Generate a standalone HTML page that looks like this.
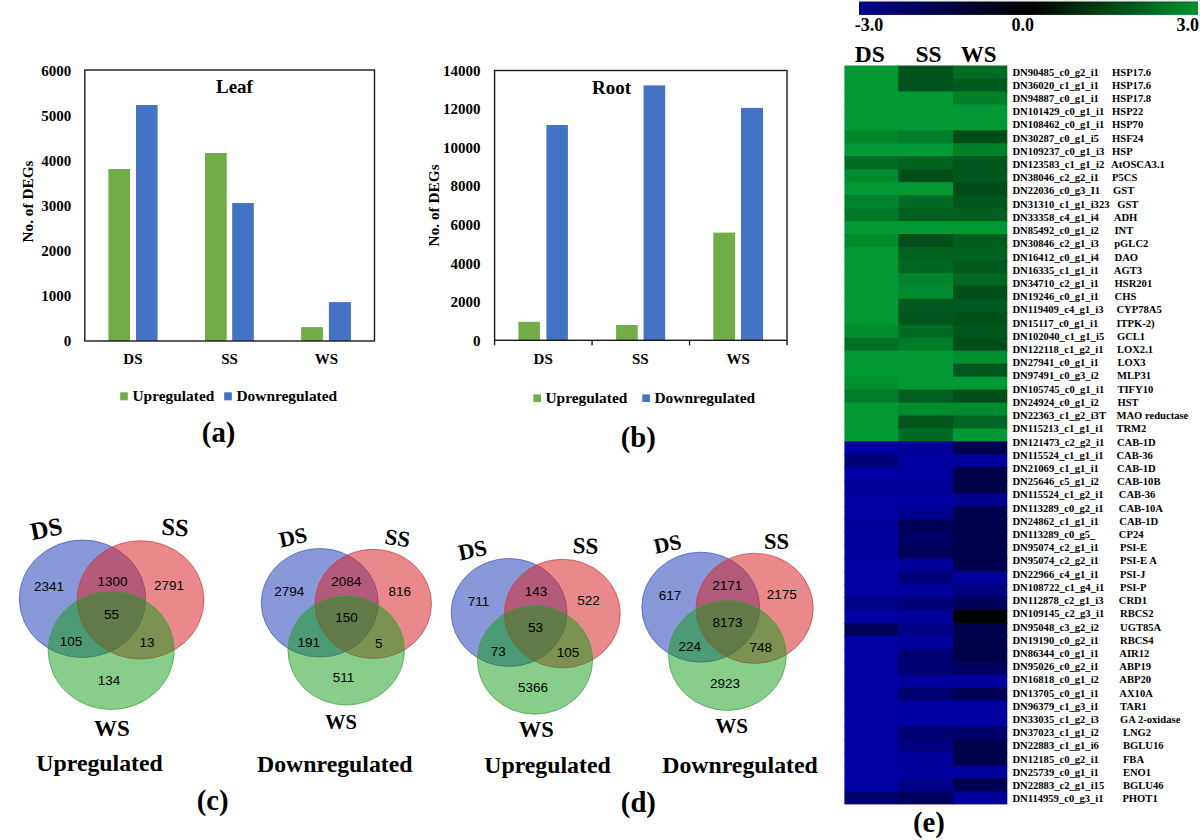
<!DOCTYPE html>
<html><head><meta charset="utf-8"><style>
html,body{margin:0;padding:0;background:#fff;}
svg{display:block;}
</style></head><body>
<svg width="1200" height="840" viewBox="0 0 1200 840">
<rect width="1200" height="840" fill="#fff"/>
<rect x="108.4" y="169.0" width="21.6" height="172.0" fill="#70AD47"/>
<rect x="136.0" y="105.0" width="21.6" height="236.0" fill="#4472C4"/>
<rect x="205.0" y="153.0" width="21.7" height="188.0" fill="#70AD47"/>
<rect x="232.2" y="203.0" width="21.6" height="138.0" fill="#4472C4"/>
<rect x="301.2" y="327.1" width="21.7" height="13.899999999999977" fill="#70AD47"/>
<rect x="328.9" y="302.1" width="22.0" height="38.89999999999998" fill="#4472C4"/>
<rect x="84.8" y="70.0" width="289.7" height="271.0" fill="none" stroke="#1a1a1a" stroke-width="1.4"/>
<text x="71.3" y="346.3" font-size="15" text-anchor="end" font-weight="bold" font-family="Liberation Serif" >0</text>
<text x="71.3" y="301.3" font-size="15" text-anchor="end" font-weight="bold" font-family="Liberation Serif" >1000</text>
<text x="71.3" y="256.3" font-size="15" text-anchor="end" font-weight="bold" font-family="Liberation Serif" >2000</text>
<text x="71.3" y="211.3" font-size="15" text-anchor="end" font-weight="bold" font-family="Liberation Serif" >3000</text>
<text x="71.3" y="166.3" font-size="15" text-anchor="end" font-weight="bold" font-family="Liberation Serif" >4000</text>
<text x="71.3" y="121.3" font-size="15" text-anchor="end" font-weight="bold" font-family="Liberation Serif" >5000</text>
<text x="71.3" y="76.3" font-size="15" text-anchor="end" font-weight="bold" font-family="Liberation Serif" >6000</text>
<text x="132.9" y="364.2" font-size="15" text-anchor="middle" font-weight="bold" font-family="Liberation Serif" >DS</text>
<text x="229.5" y="364.2" font-size="15" text-anchor="middle" font-weight="bold" font-family="Liberation Serif" >SS</text>
<text x="326.3" y="364.2" font-size="15" text-anchor="middle" font-weight="bold" font-family="Liberation Serif" >WS</text>
<text x="216" y="93.2" font-size="19" text-anchor="start" font-weight="bold" font-family="Liberation Serif" >Leaf</text>
<text transform="translate(32.9,201.5) rotate(-90)" x="0" y="0" font-size="15.3" text-anchor="middle" font-weight="bold" font-family="Liberation Serif">No. of DEGs</text>
<rect x="120.2" y="392.3" width="7.6" height="8" fill="#70AD47"/>
<text x="132.5" y="400.8" font-size="15.4" text-anchor="start" font-weight="bold" font-family="Liberation Serif" >Upregulated</text>
<rect x="224.2" y="392.3" width="7.6" height="8" fill="#4472C4"/>
<text x="236.5" y="400.8" font-size="15.4" text-anchor="start" font-weight="bold" font-family="Liberation Serif" >Downregulated</text>
<text x="218.6" y="442.1" font-size="28.7" text-anchor="middle" font-weight="bold" font-family="Liberation Serif" >(a)</text>
<rect x="518.4" y="321.8" width="21.5" height="18.5" fill="#70AD47"/>
<rect x="546.4" y="125.0" width="21.5" height="215.3" fill="#4472C4"/>
<rect x="616.1" y="325.0" width="21.6" height="15.300000000000011" fill="#70AD47"/>
<rect x="643.6" y="85.4" width="21.6" height="254.9" fill="#4472C4"/>
<rect x="713.3" y="232.6" width="21.7" height="107.70000000000002" fill="#70AD47"/>
<rect x="741.0" y="107.9" width="22.0" height="232.4" fill="#4472C4"/>
<rect x="494.6" y="70.5" width="292.4" height="269.8" fill="none" stroke="#1a1a1a" stroke-width="1.4"/>
<line x1="494.6" y1="340.3" x2="494.6" y2="345.3" stroke="#1a1a1a" stroke-width="1.4"/>
<line x1="592.0666666666667" y1="340.3" x2="592.0666666666667" y2="345.3" stroke="#1a1a1a" stroke-width="1.4"/>
<line x1="689.5333333333333" y1="340.3" x2="689.5333333333333" y2="345.3" stroke="#1a1a1a" stroke-width="1.4"/>
<line x1="787.0" y1="340.3" x2="787.0" y2="345.3" stroke="#1a1a1a" stroke-width="1.4"/>
<text x="480.6" y="345.6" font-size="15" text-anchor="end" font-weight="bold" font-family="Liberation Serif" >0</text>
<text x="480.6" y="307.06" font-size="15" text-anchor="end" font-weight="bold" font-family="Liberation Serif" >2000</text>
<text x="480.6" y="268.52000000000004" font-size="15" text-anchor="end" font-weight="bold" font-family="Liberation Serif" >4000</text>
<text x="480.6" y="229.98000000000002" font-size="15" text-anchor="end" font-weight="bold" font-family="Liberation Serif" >6000</text>
<text x="480.6" y="191.44000000000003" font-size="15" text-anchor="end" font-weight="bold" font-family="Liberation Serif" >8000</text>
<text x="480.6" y="152.90000000000003" font-size="15" text-anchor="end" font-weight="bold" font-family="Liberation Serif" >10000</text>
<text x="480.6" y="114.36" font-size="15" text-anchor="end" font-weight="bold" font-family="Liberation Serif" >12000</text>
<text x="480.6" y="75.82000000000004" font-size="15" text-anchor="end" font-weight="bold" font-family="Liberation Serif" >14000</text>
<text x="543.2" y="364.2" font-size="15" text-anchor="middle" font-weight="bold" font-family="Liberation Serif" >DS</text>
<text x="640.3" y="364.2" font-size="15" text-anchor="middle" font-weight="bold" font-family="Liberation Serif" >SS</text>
<text x="738.2" y="364.2" font-size="15" text-anchor="middle" font-weight="bold" font-family="Liberation Serif" >WS</text>
<text x="592" y="94.0" font-size="19" text-anchor="start" font-weight="bold" font-family="Liberation Serif" >Root</text>
<text transform="translate(439.3,205.4) rotate(-90)" x="0" y="0" font-size="15.3" text-anchor="middle" font-weight="bold" font-family="Liberation Serif">No. of DEGs</text>
<rect x="533.4" y="394.4" width="7.6" height="7.6" fill="#70AD47"/>
<text x="545.5" y="402.5" font-size="15.4" text-anchor="start" font-weight="bold" font-family="Liberation Serif" >Upregulated</text>
<rect x="642.3" y="394.4" width="7.6" height="7.6" fill="#4472C4"/>
<text x="654.5" y="402.5" font-size="15.4" text-anchor="start" font-weight="bold" font-family="Liberation Serif" >Downregulated</text>
<text x="638.3" y="446.7" font-size="28.7" text-anchor="middle" font-weight="bold" font-family="Liberation Serif" >(b)</text>
<ellipse cx="82.5" cy="598.8" rx="63.2" ry="58.8" fill="rgba(20,50,180,0.5)" stroke="#3b55b8" stroke-opacity="0.7" stroke-width="1"/>
<ellipse cx="140.5" cy="599.9" rx="63.4" ry="59.2" fill="rgba(215,40,45,0.55)" stroke="#cc3a3a" stroke-opacity="0.7" stroke-width="1"/>
<ellipse cx="111.2" cy="650.5" rx="63.0" ry="59.0" fill="rgba(18,156,22,0.5)" stroke="#3aa03a" stroke-opacity="0.7" stroke-width="1"/>
<text x="48.9" y="591" font-size="13.5" text-anchor="middle" font-weight="normal" font-family="Liberation Sans" >2341</text>
<text x="112.5" y="586" font-size="13.5" text-anchor="middle" font-weight="normal" font-family="Liberation Sans" >1300</text>
<text x="168.95" y="589.7" font-size="13.5" text-anchor="middle" font-weight="normal" font-family="Liberation Sans" >2791</text>
<text x="111.45" y="619.1" font-size="13.5" text-anchor="middle" font-weight="normal" font-family="Liberation Sans" >55</text>
<text x="71.05" y="645.8" font-size="13.5" text-anchor="middle" font-weight="normal" font-family="Liberation Sans" >105</text>
<text x="147.05" y="647.1" font-size="13.5" text-anchor="middle" font-weight="normal" font-family="Liberation Sans" >13</text>
<text x="108.95" y="684.7" font-size="13.5" text-anchor="middle" font-weight="normal" font-family="Liberation Sans" >134</text>
<text transform="translate(48,537) rotate(-11.6)" x="0" y="0" font-size="25" text-anchor="middle" font-weight="bold" font-family="Liberation Serif">DS</text>
<text transform="translate(174.6,535.5) rotate(4)" x="0" y="0" font-size="24.5" text-anchor="middle" font-weight="bold" font-family="Liberation Serif">SS</text>
<text transform="translate(112,735.7) rotate(0)" x="0" y="0" font-size="23" text-anchor="middle" font-weight="bold" font-family="Liberation Serif">WS</text>
<ellipse cx="319.8" cy="602.8" rx="58.5" ry="54.3" fill="rgba(20,50,180,0.5)" stroke="#3b55b8" stroke-opacity="0.7" stroke-width="1"/>
<ellipse cx="373.2" cy="603.9" rx="58.25" ry="54.6" fill="rgba(215,40,45,0.55)" stroke="#cc3a3a" stroke-opacity="0.7" stroke-width="1"/>
<ellipse cx="346.2" cy="650.5" rx="58.2" ry="54.5" fill="rgba(18,156,22,0.5)" stroke="#3aa03a" stroke-opacity="0.7" stroke-width="1"/>
<text x="289.29999999999995" y="595.9" font-size="13.5" text-anchor="middle" font-weight="normal" font-family="Liberation Sans" >2794</text>
<text x="346.29999999999995" y="585.9" font-size="13.5" text-anchor="middle" font-weight="normal" font-family="Liberation Sans" >2084</text>
<text x="399.85" y="595.6" font-size="13.5" text-anchor="middle" font-weight="normal" font-family="Liberation Sans" >816</text>
<text x="346.6" y="622" font-size="13.5" text-anchor="middle" font-weight="normal" font-family="Liberation Sans" >150</text>
<text x="308.8" y="646.6" font-size="13.5" text-anchor="middle" font-weight="normal" font-family="Liberation Sans" >191</text>
<text x="378.7" y="648" font-size="13.5" text-anchor="middle" font-weight="normal" font-family="Liberation Sans" >5</text>
<text x="343.45" y="682" font-size="13.5" text-anchor="middle" font-weight="normal" font-family="Liberation Sans" >511</text>
<text transform="translate(294.5,544.5) rotate(-12)" x="0" y="0" font-size="22" text-anchor="middle" font-weight="bold" font-family="Liberation Serif">DS</text>
<text transform="translate(396.5,545.5) rotate(8)" x="0" y="0" font-size="22.5" text-anchor="middle" font-weight="bold" font-family="Liberation Serif">SS</text>
<text transform="translate(341,729) rotate(0)" x="0" y="0" font-size="20.5" text-anchor="middle" font-weight="bold" font-family="Liberation Serif">WS</text>
<ellipse cx="509.1" cy="612.5" rx="57.9" ry="54.0" fill="rgba(20,50,180,0.5)" stroke="#3b55b8" stroke-opacity="0.7" stroke-width="1"/>
<ellipse cx="562.3" cy="613.6" rx="57.9" ry="54.3" fill="rgba(215,40,45,0.55)" stroke="#cc3a3a" stroke-opacity="0.7" stroke-width="1"/>
<ellipse cx="535.0" cy="660.0" rx="57.6" ry="54.2" fill="rgba(18,156,22,0.5)" stroke="#3aa03a" stroke-opacity="0.7" stroke-width="1"/>
<text x="478.6" y="605.9" font-size="13.5" text-anchor="middle" font-weight="normal" font-family="Liberation Sans" >711</text>
<text x="535.95" y="595.9" font-size="13.5" text-anchor="middle" font-weight="normal" font-family="Liberation Sans" >143</text>
<text x="588.55" y="605.1" font-size="13.5" text-anchor="middle" font-weight="normal" font-family="Liberation Sans" >522</text>
<text x="535.55" y="631.8" font-size="13.5" text-anchor="middle" font-weight="normal" font-family="Liberation Sans" >53</text>
<text x="498.2" y="656.1" font-size="13.5" text-anchor="middle" font-weight="normal" font-family="Liberation Sans" >73</text>
<text x="568.0" y="656.9" font-size="13.5" text-anchor="middle" font-weight="normal" font-family="Liberation Sans" >105</text>
<text x="532.9" y="691.5" font-size="13.5" text-anchor="middle" font-weight="normal" font-family="Liberation Sans" >5366</text>
<text transform="translate(474,557.5) rotate(-12)" x="0" y="0" font-size="22.5" text-anchor="middle" font-weight="bold" font-family="Liberation Serif">DS</text>
<text transform="translate(585.2,553.5) rotate(2)" x="0" y="0" font-size="23" text-anchor="middle" font-weight="bold" font-family="Liberation Serif">SS</text>
<text transform="translate(536.3,737.3) rotate(0)" x="0" y="0" font-size="22.5" text-anchor="middle" font-weight="bold" font-family="Liberation Serif">WS</text>
<ellipse cx="700.7" cy="607.2" rx="58.9" ry="55.0" fill="rgba(20,50,180,0.5)" stroke="#3b55b8" stroke-opacity="0.7" stroke-width="1"/>
<ellipse cx="754.6" cy="608.3" rx="58.6" ry="55.1" fill="rgba(215,40,45,0.55)" stroke="#cc3a3a" stroke-opacity="0.7" stroke-width="1"/>
<ellipse cx="727.4" cy="655.5" rx="58.9" ry="54.9" fill="rgba(18,156,22,0.5)" stroke="#3aa03a" stroke-opacity="0.7" stroke-width="1"/>
<text x="669.9" y="600.4" font-size="13.5" text-anchor="middle" font-weight="normal" font-family="Liberation Sans" >617</text>
<text x="727.15" y="590.2" font-size="13.5" text-anchor="middle" font-weight="normal" font-family="Liberation Sans" >2171</text>
<text x="781.8" y="599.3" font-size="13.5" text-anchor="middle" font-weight="normal" font-family="Liberation Sans" >2175</text>
<text x="727.5" y="626.5" font-size="13.5" text-anchor="middle" font-weight="normal" font-family="Liberation Sans" >8173</text>
<text x="689.85" y="651.4" font-size="13.5" text-anchor="middle" font-weight="normal" font-family="Liberation Sans" >224</text>
<text x="760.65" y="652.2" font-size="13.5" text-anchor="middle" font-weight="normal" font-family="Liberation Sans" >748</text>
<text x="725.0" y="687.5" font-size="13.5" text-anchor="middle" font-weight="normal" font-family="Liberation Sans" >2923</text>
<text transform="translate(669,551) rotate(-12)" x="0" y="0" font-size="21.5" text-anchor="middle" font-weight="bold" font-family="Liberation Serif">DS</text>
<text transform="translate(776.4,548.8) rotate(0)" x="0" y="0" font-size="22.5" text-anchor="middle" font-weight="bold" font-family="Liberation Serif">SS</text>
<text transform="translate(731.6,733.3) rotate(0)" x="0" y="0" font-size="21" text-anchor="middle" font-weight="bold" font-family="Liberation Serif">WS</text>
<text x="99.6" y="771.3" font-size="23.8" text-anchor="middle" font-weight="bold" font-family="Liberation Serif" >Upregulated</text>
<text x="334.8" y="772.3" font-size="23.8" text-anchor="middle" font-weight="bold" font-family="Liberation Serif" >Downregulated</text>
<text x="212.7" y="809.6" font-size="28.7" text-anchor="middle" font-weight="bold" font-family="Liberation Serif" >(c)</text>
<text x="547.5" y="773.3" font-size="23.8" text-anchor="middle" font-weight="bold" font-family="Liberation Serif" >Upregulated</text>
<text x="740" y="773.3" font-size="23.8" text-anchor="middle" font-weight="bold" font-family="Liberation Serif" >Downregulated</text>
<text x="638.4" y="811.6" font-size="28.7" text-anchor="middle" font-weight="bold" font-family="Liberation Serif" >(d)</text>
<defs><linearGradient id="cb" x1="0" x2="1" y1="0" y2="0"><stop offset="0" stop-color="#000090"/><stop offset="0.5" stop-color="#000000"/><stop offset="1" stop-color="#00922F"/></linearGradient></defs>
<rect x="859" y="1.6" width="339" height="13.3" fill="url(#cb)"/>
<line x1="859" y1="2.1" x2="1198" y2="2.1" stroke="#000" stroke-opacity="0.3" stroke-width="1"/>
<line x1="859" y1="1.0" x2="1198" y2="1.0" stroke="#888" stroke-opacity="0.35" stroke-width="0.8"/>
<text x="854.7" y="30.8" font-size="18" text-anchor="start" font-weight="bold" font-family="Liberation Serif" >-3.0</text>
<text x="1022.7" y="30.8" font-size="18" text-anchor="middle" font-weight="bold" font-family="Liberation Serif" >0.0</text>
<text x="1199" y="30.8" font-size="18" text-anchor="end" font-weight="bold" font-family="Liberation Serif" >3.0</text>
<text x="869.8" y="61.7" font-size="23.5" text-anchor="middle" font-weight="bold" font-family="Liberation Serif" >DS</text>
<text x="928.6" y="61.7" font-size="23.5" text-anchor="middle" font-weight="bold" font-family="Liberation Serif" >SS</text>
<text x="978.7" y="61.7" font-size="23.0" text-anchor="middle" font-weight="bold" font-family="Liberation Serif" >WS</text>
<rect x="844.40" y="65.50" width="54.90" height="13.96" fill="#009933"/>
<rect x="898.30" y="65.50" width="55.70" height="13.96" fill="#00521C"/>
<rect x="953.00" y="65.50" width="54.30" height="13.96" fill="#006B24"/>
<rect x="844.40" y="78.46" width="54.90" height="13.96" fill="#009933"/>
<rect x="898.30" y="78.46" width="55.70" height="13.96" fill="#00521C"/>
<rect x="953.00" y="78.46" width="54.30" height="13.96" fill="#005A1E"/>
<rect x="844.40" y="91.43" width="54.90" height="13.96" fill="#009933"/>
<rect x="898.30" y="91.43" width="55.70" height="13.96" fill="#009933"/>
<rect x="953.00" y="91.43" width="54.30" height="13.96" fill="#008029"/>
<rect x="844.40" y="104.39" width="54.90" height="13.96" fill="#009933"/>
<rect x="898.30" y="104.39" width="55.70" height="13.96" fill="#009933"/>
<rect x="953.00" y="104.39" width="54.30" height="13.96" fill="#009933"/>
<rect x="844.40" y="117.35" width="54.90" height="13.96" fill="#009933"/>
<rect x="898.30" y="117.35" width="55.70" height="13.96" fill="#009933"/>
<rect x="953.00" y="117.35" width="54.30" height="13.96" fill="#009933"/>
<rect x="844.40" y="130.32" width="54.90" height="13.96" fill="#00882D"/>
<rect x="898.30" y="130.32" width="55.70" height="13.96" fill="#007F2A"/>
<rect x="953.00" y="130.32" width="54.30" height="13.96" fill="#004D1A"/>
<rect x="844.40" y="143.28" width="54.90" height="13.96" fill="#009933"/>
<rect x="898.30" y="143.28" width="55.70" height="13.96" fill="#009933"/>
<rect x="953.00" y="143.28" width="54.30" height="13.96" fill="#008029"/>
<rect x="844.40" y="156.24" width="54.90" height="13.96" fill="#006B24"/>
<rect x="898.30" y="156.24" width="55.70" height="13.96" fill="#00621F"/>
<rect x="953.00" y="156.24" width="54.30" height="13.96" fill="#00561C"/>
<rect x="844.40" y="169.21" width="54.90" height="13.96" fill="#008C2E"/>
<rect x="898.30" y="169.21" width="55.70" height="13.96" fill="#004F1A"/>
<rect x="953.00" y="169.21" width="54.30" height="13.96" fill="#00561C"/>
<rect x="844.40" y="182.17" width="54.90" height="13.96" fill="#009933"/>
<rect x="898.30" y="182.17" width="55.70" height="13.96" fill="#009933"/>
<rect x="953.00" y="182.17" width="54.30" height="13.96" fill="#004D1A"/>
<rect x="844.40" y="195.13" width="54.90" height="13.96" fill="#00852B"/>
<rect x="898.30" y="195.13" width="55.70" height="13.96" fill="#006B24"/>
<rect x="953.00" y="195.13" width="54.30" height="13.96" fill="#00561C"/>
<rect x="844.40" y="208.09" width="54.90" height="13.96" fill="#007A28"/>
<rect x="898.30" y="208.09" width="55.70" height="13.96" fill="#005E1F"/>
<rect x="953.00" y="208.09" width="54.30" height="13.96" fill="#005E1F"/>
<rect x="844.40" y="221.06" width="54.90" height="13.96" fill="#009933"/>
<rect x="898.30" y="221.06" width="55.70" height="13.96" fill="#009933"/>
<rect x="953.00" y="221.06" width="54.30" height="13.96" fill="#009933"/>
<rect x="844.40" y="234.02" width="54.90" height="13.96" fill="#008C2E"/>
<rect x="898.30" y="234.02" width="55.70" height="13.96" fill="#004F1A"/>
<rect x="953.00" y="234.02" width="54.30" height="13.96" fill="#005E1F"/>
<rect x="844.40" y="246.98" width="54.90" height="13.96" fill="#009933"/>
<rect x="898.30" y="246.98" width="55.70" height="13.96" fill="#006221"/>
<rect x="953.00" y="246.98" width="54.30" height="13.96" fill="#006221"/>
<rect x="844.40" y="259.95" width="54.90" height="13.96" fill="#009933"/>
<rect x="898.30" y="259.95" width="55.70" height="13.96" fill="#006623"/>
<rect x="953.00" y="259.95" width="54.30" height="13.96" fill="#005A1E"/>
<rect x="844.40" y="272.91" width="54.90" height="13.96" fill="#009933"/>
<rect x="898.30" y="272.91" width="55.70" height="13.96" fill="#00852B"/>
<rect x="953.00" y="272.91" width="54.30" height="13.96" fill="#006623"/>
<rect x="844.40" y="285.87" width="54.90" height="13.96" fill="#009933"/>
<rect x="898.30" y="285.87" width="55.70" height="13.96" fill="#008C2E"/>
<rect x="953.00" y="285.87" width="54.30" height="13.96" fill="#00501A"/>
<rect x="844.40" y="298.84" width="54.90" height="13.96" fill="#009933"/>
<rect x="898.30" y="298.84" width="55.70" height="13.96" fill="#005A1E"/>
<rect x="953.00" y="298.84" width="54.30" height="13.96" fill="#005A1E"/>
<rect x="844.40" y="311.80" width="54.90" height="13.96" fill="#009933"/>
<rect x="898.30" y="311.80" width="55.70" height="13.96" fill="#00561C"/>
<rect x="953.00" y="311.80" width="54.30" height="13.96" fill="#00501A"/>
<rect x="844.40" y="324.76" width="54.90" height="13.96" fill="#008C2E"/>
<rect x="898.30" y="324.76" width="55.70" height="13.96" fill="#006B24"/>
<rect x="953.00" y="324.76" width="54.30" height="13.96" fill="#00561C"/>
<rect x="844.40" y="337.73" width="54.90" height="13.96" fill="#007027"/>
<rect x="898.30" y="337.73" width="55.70" height="13.96" fill="#007D2A"/>
<rect x="953.00" y="337.73" width="54.30" height="13.96" fill="#004F1A"/>
<rect x="844.40" y="350.69" width="54.90" height="13.96" fill="#009933"/>
<rect x="898.30" y="350.69" width="55.70" height="13.96" fill="#009933"/>
<rect x="953.00" y="350.69" width="54.30" height="13.96" fill="#009030"/>
<rect x="844.40" y="363.65" width="54.90" height="13.96" fill="#009933"/>
<rect x="898.30" y="363.65" width="55.70" height="13.96" fill="#009933"/>
<rect x="953.00" y="363.65" width="54.30" height="13.96" fill="#00561C"/>
<rect x="844.40" y="376.62" width="54.90" height="13.96" fill="#00912F"/>
<rect x="898.30" y="376.62" width="55.70" height="13.96" fill="#009933"/>
<rect x="953.00" y="376.62" width="54.30" height="13.96" fill="#009933"/>
<rect x="844.40" y="389.58" width="54.90" height="13.96" fill="#007D2A"/>
<rect x="898.30" y="389.58" width="55.70" height="13.96" fill="#005E1F"/>
<rect x="953.00" y="389.58" width="54.30" height="13.96" fill="#004F1A"/>
<rect x="844.40" y="402.54" width="54.90" height="13.96" fill="#009933"/>
<rect x="898.30" y="402.54" width="55.70" height="13.96" fill="#008C2E"/>
<rect x="953.00" y="402.54" width="54.30" height="13.96" fill="#008C2E"/>
<rect x="844.40" y="415.51" width="54.90" height="13.96" fill="#009933"/>
<rect x="898.30" y="415.51" width="55.70" height="13.96" fill="#00561C"/>
<rect x="953.00" y="415.51" width="54.30" height="13.96" fill="#006623"/>
<rect x="844.40" y="428.47" width="54.90" height="13.96" fill="#009933"/>
<rect x="898.30" y="428.47" width="55.70" height="13.96" fill="#006B24"/>
<rect x="953.00" y="428.47" width="54.30" height="13.96" fill="#009933"/>
<rect x="844.40" y="441.43" width="54.90" height="13.96" fill="#0000A3"/>
<rect x="898.30" y="441.43" width="55.70" height="13.96" fill="#000098"/>
<rect x="953.00" y="441.43" width="54.30" height="13.96" fill="#000050"/>
<rect x="844.40" y="454.39" width="54.90" height="13.96" fill="#000078"/>
<rect x="898.30" y="454.39" width="55.70" height="13.96" fill="#0000A0"/>
<rect x="953.00" y="454.39" width="54.30" height="13.96" fill="#00009A"/>
<rect x="844.40" y="467.36" width="54.90" height="13.96" fill="#0000A3"/>
<rect x="898.30" y="467.36" width="55.70" height="13.96" fill="#0000A0"/>
<rect x="953.00" y="467.36" width="54.30" height="13.96" fill="#000048"/>
<rect x="844.40" y="480.32" width="54.90" height="13.96" fill="#000098"/>
<rect x="898.30" y="480.32" width="55.70" height="13.96" fill="#000098"/>
<rect x="953.00" y="480.32" width="54.30" height="13.96" fill="#000048"/>
<rect x="844.40" y="493.28" width="54.90" height="13.96" fill="#0000A3"/>
<rect x="898.30" y="493.28" width="55.70" height="13.96" fill="#0000A0"/>
<rect x="953.00" y="493.28" width="54.30" height="13.96" fill="#000090"/>
<rect x="844.40" y="506.25" width="54.90" height="13.96" fill="#0000A3"/>
<rect x="898.30" y="506.25" width="55.70" height="13.96" fill="#000090"/>
<rect x="953.00" y="506.25" width="54.30" height="13.96" fill="#000050"/>
<rect x="844.40" y="519.21" width="54.90" height="13.96" fill="#00009C"/>
<rect x="898.30" y="519.21" width="55.70" height="13.96" fill="#000058"/>
<rect x="953.00" y="519.21" width="54.30" height="13.96" fill="#00004C"/>
<rect x="844.40" y="532.17" width="54.90" height="13.96" fill="#00009C"/>
<rect x="898.30" y="532.17" width="55.70" height="13.96" fill="#000068"/>
<rect x="953.00" y="532.17" width="54.30" height="13.96" fill="#00004C"/>
<rect x="844.40" y="545.14" width="54.90" height="13.96" fill="#00009C"/>
<rect x="898.30" y="545.14" width="55.70" height="13.96" fill="#000058"/>
<rect x="953.00" y="545.14" width="54.30" height="13.96" fill="#00004C"/>
<rect x="844.40" y="558.10" width="54.90" height="13.96" fill="#0000A3"/>
<rect x="898.30" y="558.10" width="55.70" height="13.96" fill="#00009A"/>
<rect x="953.00" y="558.10" width="54.30" height="13.96" fill="#00004C"/>
<rect x="844.40" y="571.06" width="54.90" height="13.96" fill="#0000A3"/>
<rect x="898.30" y="571.06" width="55.70" height="13.96" fill="#000078"/>
<rect x="953.00" y="571.06" width="54.30" height="13.96" fill="#00009C"/>
<rect x="844.40" y="584.03" width="54.90" height="13.96" fill="#0000A3"/>
<rect x="898.30" y="584.03" width="55.70" height="13.96" fill="#00009C"/>
<rect x="953.00" y="584.03" width="54.30" height="13.96" fill="#000080"/>
<rect x="844.40" y="596.99" width="54.90" height="13.96" fill="#000088"/>
<rect x="898.30" y="596.99" width="55.70" height="13.96" fill="#000078"/>
<rect x="953.00" y="596.99" width="54.30" height="13.96" fill="#000058"/>
<rect x="844.40" y="609.95" width="54.90" height="13.96" fill="#0000A3"/>
<rect x="898.30" y="609.95" width="55.70" height="13.96" fill="#00009A"/>
<rect x="953.00" y="609.95" width="54.30" height="13.96" fill="#000000"/>
<rect x="844.40" y="622.92" width="54.90" height="13.96" fill="#000058"/>
<rect x="898.30" y="622.92" width="55.70" height="13.96" fill="#000088"/>
<rect x="953.00" y="622.92" width="54.30" height="13.96" fill="#00004C"/>
<rect x="844.40" y="635.88" width="54.90" height="13.96" fill="#0000A3"/>
<rect x="898.30" y="635.88" width="55.70" height="13.96" fill="#00009C"/>
<rect x="953.00" y="635.88" width="54.30" height="13.96" fill="#00004C"/>
<rect x="844.40" y="648.84" width="54.90" height="13.96" fill="#0000A3"/>
<rect x="898.30" y="648.84" width="55.70" height="13.96" fill="#000070"/>
<rect x="953.00" y="648.84" width="54.30" height="13.96" fill="#000048"/>
<rect x="844.40" y="661.81" width="54.90" height="13.96" fill="#0000A3"/>
<rect x="898.30" y="661.81" width="55.70" height="13.96" fill="#000070"/>
<rect x="953.00" y="661.81" width="54.30" height="13.96" fill="#000060"/>
<rect x="844.40" y="674.77" width="54.90" height="13.96" fill="#0000A3"/>
<rect x="898.30" y="674.77" width="55.70" height="13.96" fill="#00009C"/>
<rect x="953.00" y="674.77" width="54.30" height="13.96" fill="#00009C"/>
<rect x="844.40" y="687.73" width="54.90" height="13.96" fill="#0000A3"/>
<rect x="898.30" y="687.73" width="55.70" height="13.96" fill="#000070"/>
<rect x="953.00" y="687.73" width="54.30" height="13.96" fill="#000058"/>
<rect x="844.40" y="700.69" width="54.90" height="13.96" fill="#0000A3"/>
<rect x="898.30" y="700.69" width="55.70" height="13.96" fill="#0000A0"/>
<rect x="953.00" y="700.69" width="54.30" height="13.96" fill="#0000A0"/>
<rect x="844.40" y="713.66" width="54.90" height="13.96" fill="#0000A3"/>
<rect x="898.30" y="713.66" width="55.70" height="13.96" fill="#0000A0"/>
<rect x="953.00" y="713.66" width="54.30" height="13.96" fill="#0000A0"/>
<rect x="844.40" y="726.62" width="54.90" height="13.96" fill="#0000A3"/>
<rect x="898.30" y="726.62" width="55.70" height="13.96" fill="#000070"/>
<rect x="953.00" y="726.62" width="54.30" height="13.96" fill="#000068"/>
<rect x="844.40" y="739.58" width="54.90" height="13.96" fill="#0000A3"/>
<rect x="898.30" y="739.58" width="55.70" height="13.96" fill="#000080"/>
<rect x="953.00" y="739.58" width="54.30" height="13.96" fill="#00004C"/>
<rect x="844.40" y="752.55" width="54.90" height="13.96" fill="#0000A3"/>
<rect x="898.30" y="752.55" width="55.70" height="13.96" fill="#00009C"/>
<rect x="953.00" y="752.55" width="54.30" height="13.96" fill="#00004C"/>
<rect x="844.40" y="765.51" width="54.90" height="13.96" fill="#0000A3"/>
<rect x="898.30" y="765.51" width="55.70" height="13.96" fill="#00009C"/>
<rect x="953.00" y="765.51" width="54.30" height="13.96" fill="#00009A"/>
<rect x="844.40" y="778.47" width="54.90" height="13.96" fill="#0000A3"/>
<rect x="898.30" y="778.47" width="55.70" height="13.96" fill="#000088"/>
<rect x="953.00" y="778.47" width="54.30" height="13.96" fill="#000050"/>
<rect x="844.40" y="791.44" width="54.90" height="12.96" fill="#000070"/>
<rect x="898.30" y="791.44" width="55.70" height="12.96" fill="#000060"/>
<rect x="953.00" y="791.44" width="54.30" height="12.96" fill="#000098"/>
<text x="1012.4" y="75.50" font-size="10.6" text-anchor="start" font-weight="bold" font-family="Liberation Serif" >DN90485_c0_g2_i1</text>
<text x="1112" y="75.50" font-size="10.6" text-anchor="start" font-weight="bold" font-family="Liberation Serif" >HSP17.6</text>
<text x="1012.4" y="88.72" font-size="10.6" text-anchor="start" font-weight="bold" font-family="Liberation Serif" >DN36020_c1_g1_i1</text>
<text x="1112" y="88.72" font-size="10.6" text-anchor="start" font-weight="bold" font-family="Liberation Serif" >HSP17.6</text>
<text x="1012.4" y="101.93" font-size="10.6" text-anchor="start" font-weight="bold" font-family="Liberation Serif" >DN94887_c0_g1_i1</text>
<text x="1112" y="101.93" font-size="10.6" text-anchor="start" font-weight="bold" font-family="Liberation Serif" >HSP17.8</text>
<text x="1012.4" y="115.14" font-size="10.6" text-anchor="start" font-weight="bold" font-family="Liberation Serif" >DN101429_c0_g1_i1</text>
<text x="1112" y="115.14" font-size="10.6" text-anchor="start" font-weight="bold" font-family="Liberation Serif" >HSP22</text>
<text x="1012.4" y="128.36" font-size="10.6" text-anchor="start" font-weight="bold" font-family="Liberation Serif" >DN108462_c0_g1_i1</text>
<text x="1112" y="128.36" font-size="10.6" text-anchor="start" font-weight="bold" font-family="Liberation Serif" >HSP70</text>
<text x="1012.4" y="141.57" font-size="10.6" text-anchor="start" font-weight="bold" font-family="Liberation Serif" >DN30287_c0_g1_i5</text>
<text x="1112" y="141.57" font-size="10.6" text-anchor="start" font-weight="bold" font-family="Liberation Serif" >HSF24</text>
<text x="1012.4" y="154.79" font-size="10.6" text-anchor="start" font-weight="bold" font-family="Liberation Serif" >DN109237_c0_g1_i3</text>
<text x="1112" y="154.79" font-size="10.6" text-anchor="start" font-weight="bold" font-family="Liberation Serif" >HSP</text>
<text x="1012.4" y="168.00" font-size="10.6" text-anchor="start" font-weight="bold" font-family="Liberation Serif" >DN123583_c1_g1_i2</text>
<text x="1111" y="168.00" font-size="10.6" text-anchor="start" font-weight="bold" font-family="Liberation Serif" >AtOSCA3.1</text>
<text x="1012.4" y="181.22" font-size="10.6" text-anchor="start" font-weight="bold" font-family="Liberation Serif" >DN38046_c2_g2_i1</text>
<text x="1112" y="181.22" font-size="10.6" text-anchor="start" font-weight="bold" font-family="Liberation Serif" >P5CS</text>
<text x="1012.4" y="194.44" font-size="10.6" text-anchor="start" font-weight="bold" font-family="Liberation Serif" >DN22036_c0_g3_I1</text>
<text x="1113.1" y="194.44" font-size="10.6" text-anchor="start" font-weight="bold" font-family="Liberation Serif" >GST</text>
<text x="1012.4" y="207.65" font-size="10.6" text-anchor="start" font-weight="bold" font-family="Liberation Serif" >DN31310_c1_g1_i323</text>
<text x="1117.2" y="207.65" font-size="10.6" text-anchor="start" font-weight="bold" font-family="Liberation Serif" >GST</text>
<text x="1012.4" y="220.87" font-size="10.6" text-anchor="start" font-weight="bold" font-family="Liberation Serif" >DN33358_c4_g1_i4</text>
<text x="1113.8" y="220.87" font-size="10.6" text-anchor="start" font-weight="bold" font-family="Liberation Serif" >ADH</text>
<text x="1012.4" y="234.08" font-size="10.6" text-anchor="start" font-weight="bold" font-family="Liberation Serif" >DN85492_c0_g1_i2</text>
<text x="1114.4" y="234.08" font-size="10.6" text-anchor="start" font-weight="bold" font-family="Liberation Serif" >INT</text>
<text x="1012.4" y="247.29" font-size="10.6" text-anchor="start" font-weight="bold" font-family="Liberation Serif" >DN30846_c2_g1_i3</text>
<text x="1114.2" y="247.29" font-size="10.6" text-anchor="start" font-weight="bold" font-family="Liberation Serif" >pGLC2</text>
<text x="1012.4" y="260.51" font-size="10.6" text-anchor="start" font-weight="bold" font-family="Liberation Serif" >DN16412_c0_g1_i4</text>
<text x="1114.5" y="260.51" font-size="10.6" text-anchor="start" font-weight="bold" font-family="Liberation Serif" >DAO</text>
<text x="1012.4" y="273.73" font-size="10.6" text-anchor="start" font-weight="bold" font-family="Liberation Serif" >DN16335_c1_g1_i1</text>
<text x="1113.8" y="273.73" font-size="10.6" text-anchor="start" font-weight="bold" font-family="Liberation Serif" >AGT3</text>
<text x="1012.4" y="286.94" font-size="10.6" text-anchor="start" font-weight="bold" font-family="Liberation Serif" >DN34710_c2_g1_i1</text>
<text x="1114.5" y="286.94" font-size="10.6" text-anchor="start" font-weight="bold" font-family="Liberation Serif" >HSR201</text>
<text x="1012.4" y="300.15" font-size="10.6" text-anchor="start" font-weight="bold" font-family="Liberation Serif" >DN19246_c0_g1_i1</text>
<text x="1114.5" y="300.15" font-size="10.6" text-anchor="start" font-weight="bold" font-family="Liberation Serif" >CHS</text>
<text x="1012.4" y="313.37" font-size="10.6" text-anchor="start" font-weight="bold" font-family="Liberation Serif" >DN119409_c4_g1_i3</text>
<text x="1116.4" y="313.37" font-size="10.6" text-anchor="start" font-weight="bold" font-family="Liberation Serif" >CYP78A5</text>
<text x="1012.4" y="326.59" font-size="10.6" text-anchor="start" font-weight="bold" font-family="Liberation Serif" >DN15117_c0_g1_i1</text>
<text x="1116.4" y="326.59" font-size="10.6" text-anchor="start" font-weight="bold" font-family="Liberation Serif" >ITPK-2)</text>
<text x="1012.4" y="339.80" font-size="10.6" text-anchor="start" font-weight="bold" font-family="Liberation Serif" >DN102040_c1_g1_i5</text>
<text x="1116.9" y="339.80" font-size="10.6" text-anchor="start" font-weight="bold" font-family="Liberation Serif" >GCL1</text>
<text x="1012.4" y="353.01" font-size="10.6" text-anchor="start" font-weight="bold" font-family="Liberation Serif" >DN122118_c1_g2_i1</text>
<text x="1116.9" y="353.01" font-size="10.6" text-anchor="start" font-weight="bold" font-family="Liberation Serif" >LOX2.1</text>
<text x="1012.4" y="366.23" font-size="10.6" text-anchor="start" font-weight="bold" font-family="Liberation Serif" >DN27941_c0_g1_i1</text>
<text x="1117.4" y="366.23" font-size="10.6" text-anchor="start" font-weight="bold" font-family="Liberation Serif" >LOX3</text>
<text x="1012.4" y="379.44" font-size="10.6" text-anchor="start" font-weight="bold" font-family="Liberation Serif" >DN97491_c0_g3_i2</text>
<text x="1116.9" y="379.44" font-size="10.6" text-anchor="start" font-weight="bold" font-family="Liberation Serif" >MLP31</text>
<text x="1012.4" y="392.66" font-size="10.6" text-anchor="start" font-weight="bold" font-family="Liberation Serif" >DN105745_c0_g1_i1</text>
<text x="1117.4" y="392.66" font-size="10.6" text-anchor="start" font-weight="bold" font-family="Liberation Serif" >TIFY10</text>
<text x="1012.4" y="405.88" font-size="10.6" text-anchor="start" font-weight="bold" font-family="Liberation Serif" >DN24924_c0_g1_i2</text>
<text x="1117.4" y="405.88" font-size="10.6" text-anchor="start" font-weight="bold" font-family="Liberation Serif" >HST</text>
<text x="1012.4" y="419.09" font-size="10.6" text-anchor="start" font-weight="bold" font-family="Liberation Serif" >DN22363_c1_g2_i3T</text>
<text x="1116.4" y="419.09" font-size="10.6" text-anchor="start" font-weight="bold" font-family="Liberation Serif" >MAO reductase</text>
<text x="1012.4" y="432.31" font-size="10.6" text-anchor="start" font-weight="bold" font-family="Liberation Serif" >DN115213_c1_g1_i1</text>
<text x="1116.4" y="432.31" font-size="10.6" text-anchor="start" font-weight="bold" font-family="Liberation Serif" >TRM2</text>
<text x="1012.4" y="445.52" font-size="10.6" text-anchor="start" font-weight="bold" font-family="Liberation Serif" >DN121473_c2_g2_i1</text>
<text x="1116.9" y="445.52" font-size="10.6" text-anchor="start" font-weight="bold" font-family="Liberation Serif" >CAB-1D</text>
<text x="1012.4" y="458.74" font-size="10.6" text-anchor="start" font-weight="bold" font-family="Liberation Serif" >DN115524_c1_g1_i1</text>
<text x="1116.4" y="458.74" font-size="10.6" text-anchor="start" font-weight="bold" font-family="Liberation Serif" >CAB-36</text>
<text x="1012.4" y="471.95" font-size="10.6" text-anchor="start" font-weight="bold" font-family="Liberation Serif" >DN21069_c1_g1_i1</text>
<text x="1116.9" y="471.95" font-size="10.6" text-anchor="start" font-weight="bold" font-family="Liberation Serif" >CAB-1D</text>
<text x="1012.4" y="485.17" font-size="10.6" text-anchor="start" font-weight="bold" font-family="Liberation Serif" >DN25646_c5_g1_i2</text>
<text x="1116.9" y="485.17" font-size="10.6" text-anchor="start" font-weight="bold" font-family="Liberation Serif" >CAB-10B</text>
<text x="1012.4" y="498.38" font-size="10.6" text-anchor="start" font-weight="bold" font-family="Liberation Serif" >DN115524_c1_g2_i1</text>
<text x="1118.8" y="498.38" font-size="10.6" text-anchor="start" font-weight="bold" font-family="Liberation Serif" >CAB-36</text>
<text x="1012.4" y="511.59" font-size="10.6" text-anchor="start" font-weight="bold" font-family="Liberation Serif" >DN113289_c0_g2_i1</text>
<text x="1118.8" y="511.59" font-size="10.6" text-anchor="start" font-weight="bold" font-family="Liberation Serif" >CAB-10A</text>
<text x="1012.4" y="524.81" font-size="10.6" text-anchor="start" font-weight="bold" font-family="Liberation Serif" >DN24862_c1_g1_i1</text>
<text x="1119.3" y="524.81" font-size="10.6" text-anchor="start" font-weight="bold" font-family="Liberation Serif" >CAB-1D</text>
<text x="1012.4" y="538.02" font-size="10.6" text-anchor="start" font-weight="bold" font-family="Liberation Serif" >DN113289_c0_g5_</text>
<text x="1118.8" y="538.02" font-size="10.6" text-anchor="start" font-weight="bold" font-family="Liberation Serif" >CP24</text>
<text x="1012.4" y="551.24" font-size="10.6" text-anchor="start" font-weight="bold" font-family="Liberation Serif" >DN95074_c2_g1_i1</text>
<text x="1120" y="551.24" font-size="10.6" text-anchor="start" font-weight="bold" font-family="Liberation Serif" >PSI-E</text>
<text x="1012.4" y="564.45" font-size="10.6" text-anchor="start" font-weight="bold" font-family="Liberation Serif" >DN95074_c2_g2_i1</text>
<text x="1120" y="564.45" font-size="10.6" text-anchor="start" font-weight="bold" font-family="Liberation Serif" >PSI-E A</text>
<text x="1012.4" y="577.67" font-size="10.6" text-anchor="start" font-weight="bold" font-family="Liberation Serif" >DN22966_c4_g1_i1</text>
<text x="1120" y="577.67" font-size="10.6" text-anchor="start" font-weight="bold" font-family="Liberation Serif" >PSI-J</text>
<text x="1012.4" y="590.88" font-size="10.6" text-anchor="start" font-weight="bold" font-family="Liberation Serif" >DN108722_c1_g4_i1</text>
<text x="1120" y="590.88" font-size="10.6" text-anchor="start" font-weight="bold" font-family="Liberation Serif" >PSI-P</text>
<text x="1012.4" y="604.10" font-size="10.6" text-anchor="start" font-weight="bold" font-family="Liberation Serif" >DN112878_c2_g1_i3</text>
<text x="1118.8" y="604.10" font-size="10.6" text-anchor="start" font-weight="bold" font-family="Liberation Serif" >CRD1</text>
<text x="1012.4" y="617.31" font-size="10.6" text-anchor="start" font-weight="bold" font-family="Liberation Serif" >DN109145_c2_g3_i1</text>
<text x="1120" y="617.31" font-size="10.6" text-anchor="start" font-weight="bold" font-family="Liberation Serif" >RBCS2</text>
<text x="1012.4" y="630.53" font-size="10.6" text-anchor="start" font-weight="bold" font-family="Liberation Serif" >DN95048_c3_g2_i2</text>
<text x="1120" y="630.53" font-size="10.6" text-anchor="start" font-weight="bold" font-family="Liberation Serif" >UGT85A</text>
<text x="1012.4" y="643.75" font-size="10.6" text-anchor="start" font-weight="bold" font-family="Liberation Serif" >DN19190_c0_g2_i1</text>
<text x="1120" y="643.75" font-size="10.6" text-anchor="start" font-weight="bold" font-family="Liberation Serif" >RBCS4</text>
<text x="1012.4" y="656.96" font-size="10.6" text-anchor="start" font-weight="bold" font-family="Liberation Serif" >DN86344_c0_g1_i1</text>
<text x="1119.3" y="656.96" font-size="10.6" text-anchor="start" font-weight="bold" font-family="Liberation Serif" >AIR12</text>
<text x="1012.4" y="670.17" font-size="10.6" text-anchor="start" font-weight="bold" font-family="Liberation Serif" >DN95026_c0_g2_i1</text>
<text x="1119.3" y="670.17" font-size="10.6" text-anchor="start" font-weight="bold" font-family="Liberation Serif" >ABP19</text>
<text x="1012.4" y="683.39" font-size="10.6" text-anchor="start" font-weight="bold" font-family="Liberation Serif" >DN16818_c0_g1_i2</text>
<text x="1119.3" y="683.39" font-size="10.6" text-anchor="start" font-weight="bold" font-family="Liberation Serif" >ABP20</text>
<text x="1012.4" y="696.61" font-size="10.6" text-anchor="start" font-weight="bold" font-family="Liberation Serif" >DN13705_c0_g1_i1</text>
<text x="1119.3" y="696.61" font-size="10.6" text-anchor="start" font-weight="bold" font-family="Liberation Serif" >AX10A</text>
<text x="1012.4" y="709.82" font-size="10.6" text-anchor="start" font-weight="bold" font-family="Liberation Serif" >DN96379_c1_g3_i1</text>
<text x="1120" y="709.82" font-size="10.6" text-anchor="start" font-weight="bold" font-family="Liberation Serif" >TAR1</text>
<text x="1012.4" y="723.03" font-size="10.6" text-anchor="start" font-weight="bold" font-family="Liberation Serif" >DN33035_c1_g2_i3</text>
<text x="1120" y="723.03" font-size="10.6" text-anchor="start" font-weight="bold" font-family="Liberation Serif" >GA 2-oxidase</text>
<text x="1012.4" y="736.25" font-size="10.6" text-anchor="start" font-weight="bold" font-family="Liberation Serif" >DN37023_c1_g1_i2</text>
<text x="1122.9" y="736.25" font-size="10.6" text-anchor="start" font-weight="bold" font-family="Liberation Serif" >LNG2</text>
<text x="1012.4" y="749.47" font-size="10.6" text-anchor="start" font-weight="bold" font-family="Liberation Serif" >DN22883_c1_g1_i6</text>
<text x="1122.9" y="749.47" font-size="10.6" text-anchor="start" font-weight="bold" font-family="Liberation Serif" >BGLU16</text>
<text x="1012.4" y="762.68" font-size="10.6" text-anchor="start" font-weight="bold" font-family="Liberation Serif" >DN12185_c0_g2_i1</text>
<text x="1122.9" y="762.68" font-size="10.6" text-anchor="start" font-weight="bold" font-family="Liberation Serif" >FBA</text>
<text x="1012.4" y="775.89" font-size="10.6" text-anchor="start" font-weight="bold" font-family="Liberation Serif" >DN25739_c0_g1_i1</text>
<text x="1122.9" y="775.89" font-size="10.6" text-anchor="start" font-weight="bold" font-family="Liberation Serif" >ENO1</text>
<text x="1012.4" y="789.11" font-size="10.6" text-anchor="start" font-weight="bold" font-family="Liberation Serif" >DN22883_c2_g1_i15</text>
<text x="1122.9" y="789.11" font-size="10.6" text-anchor="start" font-weight="bold" font-family="Liberation Serif" >BGLU46</text>
<text x="1012.4" y="802.33" font-size="10.6" text-anchor="start" font-weight="bold" font-family="Liberation Serif" >DN114959_c0_g3_i1</text>
<text x="1122.4" y="802.33" font-size="10.6" text-anchor="start" font-weight="bold" font-family="Liberation Serif" >PHOT1</text>
<text x="928.9" y="832.3" font-size="28.7" text-anchor="middle" font-weight="bold" font-family="Liberation Serif" >(e)</text>
</svg></body></html>
